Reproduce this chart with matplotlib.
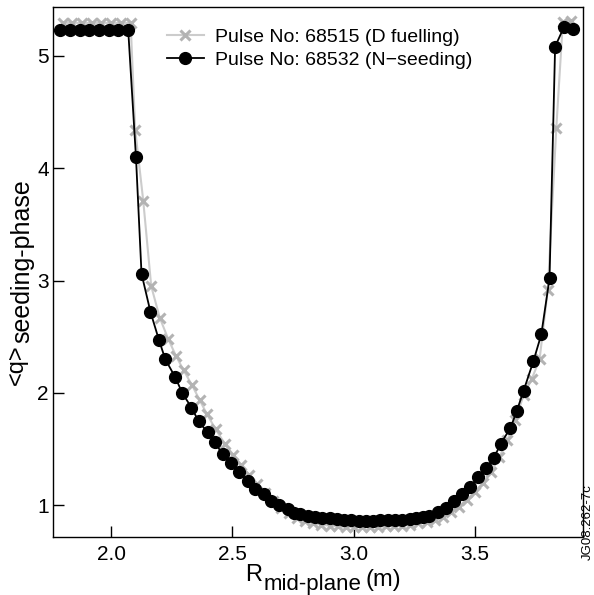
"""q profile during seeding phase"""

import matplotlib
matplotlib.use('Agg')
import matplotlib.pyplot as plt

plt.rcParams['font.family'] = ['Liberation Sans', 'DejaVu Sans']

# Pulse 68515 (D fuelling)
r_d = [1.80, 1.84, 1.88, 1.92, 1.96, 2.00, 2.04, 2.08,
       2.099, 2.132, 2.165, 2.200, 2.235, 2.267, 2.299, 2.333, 2.364, 2.395,
       2.430, 2.468, 2.503, 2.536, 2.569, 2.602, 2.635, 2.668, 2.700, 2.733,
       2.766, 2.800, 2.833, 2.866, 2.900, 2.933, 2.966, 3.000, 3.033, 3.066,
       3.100, 3.133, 3.166, 3.200, 3.233, 3.266, 3.300, 3.333, 3.366, 3.400,
       3.433, 3.466, 3.500, 3.533, 3.566, 3.600, 3.633, 3.666, 3.700, 3.733,
       3.766, 3.800, 3.835, 3.862, 3.897]
q_d = [5.29, 5.29, 5.29, 5.29, 5.29, 5.29, 5.29, 5.29,
       4.34, 3.71, 2.95, 2.67, 2.48, 2.33, 2.20, 2.07, 1.94, 1.81,
       1.68, 1.55, 1.45, 1.36, 1.27, 1.19, 1.11, 1.04, 0.98, 0.93,
       0.89, 0.86, 0.84, 0.83, 0.82, 0.815, 0.81, 0.81, 0.81, 0.81,
       0.81, 0.815, 0.82, 0.82, 0.83, 0.84, 0.85, 0.87, 0.90, 0.94,
       0.99, 1.05, 1.12, 1.20, 1.30, 1.43, 1.58, 1.76, 1.98, 2.12,
       2.30, 2.92, 4.36, 5.30, 5.31]

# Pulse 68532 (N-seeding)
r_n = [1.79, 1.83, 1.87, 1.91, 1.95, 1.99, 2.03, 2.07,
       2.102, 2.125, 2.162, 2.197, 2.223, 2.264, 2.293, 2.331, 2.360, 2.397,
       2.426, 2.459, 2.492, 2.525, 2.562, 2.591, 2.628, 2.657, 2.690, 2.727,
       2.752, 2.780, 2.810, 2.840, 2.870, 2.900, 2.930, 2.960, 2.990, 3.020,
       3.050, 3.080, 3.110, 3.140, 3.170, 3.200, 3.230, 3.256, 3.285, 3.310,
       3.346, 3.380, 3.412, 3.445, 3.479, 3.511, 3.545, 3.577, 3.606, 3.646,
       3.672, 3.700, 3.740, 3.773, 3.807, 3.830, 3.866, 3.904]
q_n = [5.23, 5.23, 5.23, 5.23, 5.23, 5.23, 5.23, 5.23,
       4.10, 3.06, 2.72, 2.47, 2.30, 2.14, 2.00, 1.87, 1.75, 1.65,
       1.56, 1.46, 1.38, 1.30, 1.22, 1.15, 1.10, 1.04, 1.00, 0.97,
       0.93, 0.92, 0.91, 0.90, 0.89, 0.885, 0.88, 0.875, 0.87, 0.865,
       0.865, 0.865, 0.87, 0.875, 0.875, 0.875, 0.88, 0.89, 0.90, 0.91,
       0.94, 0.98, 1.04, 1.10, 1.16, 1.25, 1.33, 1.42, 1.55, 1.69,
       1.84, 2.02, 2.28, 2.52, 3.02, 5.08, 5.25, 5.24]

x_ticks = [2.0, 2.5, 3.0, 3.5]
y_ticks = [1, 2, 3, 4, 5]

fig = plt.figure(figsize=(5.94, 5.95), dpi=100)
ax = fig.add_axes([0.0892, 0.0975, 0.8923, 0.8905])

ax.plot(r_d, q_d, color='#cccccc', lw=1.5, marker='x', ms=7, mew=2.2,
        mec='#b3b3b3', label='Pulse No: 68515 (D fuelling)')
ax.plot(r_n, q_n, color='k', lw=1.3, marker='o', ms=8.5,
        label='Pulse No: 68532 (N\u2212seeding)')

ax.set_xlim(1.76, 3.945)
ax.set_ylim(0.72, 5.43)
ax.set_xticks(x_ticks)
ax.set_xticklabels(['%.1f' % v for v in x_ticks])
ax.set_yticks(y_ticks)
ax.tick_params(direction='in', length=8, width=1, labelsize=15)
ax.tick_params(axis='x', pad=6)
ax.tick_params(axis='y', pad=3)
for s in ax.spines.values():
    s.set_linewidth(1.0)

ax.legend(loc='upper left', bbox_to_anchor=(0.185, 0.99), frameon=False,
          fontsize=14, handlelength=1.9, handletextpad=0.6, labelspacing=0.3,
          borderpad=0.3)

# x label: R with a large subscript
t1 = fig.text(0.413, 0.023, 'R', fontsize=17, va='baseline', ha='left')
t2 = ax.annotate('mid-plane', xy=(1, 0), xycoords=t1, xytext=(1, -3),
                 textcoords='offset points', fontsize=16, va='baseline',
                 ha='left', annotation_clip=False)
ax.annotate('(m)', xy=(1, 0), xycoords=(t2, t1), xytext=(3, 0),
            textcoords='offset points', fontsize=17, va='baseline',
            ha='left', annotation_clip=False)

# y label: <q> with a large subscript
y1 = fig.text(0.038, 0.353, '<q>', fontsize=17, rotation=90,
              rotation_mode='anchor', ha='left', va='baseline')
ax.annotate('seeding-phase', xy=(0.038, 1), xycoords=('figure fraction', y1),
            xytext=(5, 1), textcoords='offset points', fontsize=18,
            rotation=90, rotation_mode='anchor', ha='left', va='baseline',
            annotation_clip=False)

fig.text(0.989, 0.123, 'JG08.262-7c', rotation=90, fontsize=9.5,
         ha='center', va='center')

fig.savefig('out.png', dpi=100)
